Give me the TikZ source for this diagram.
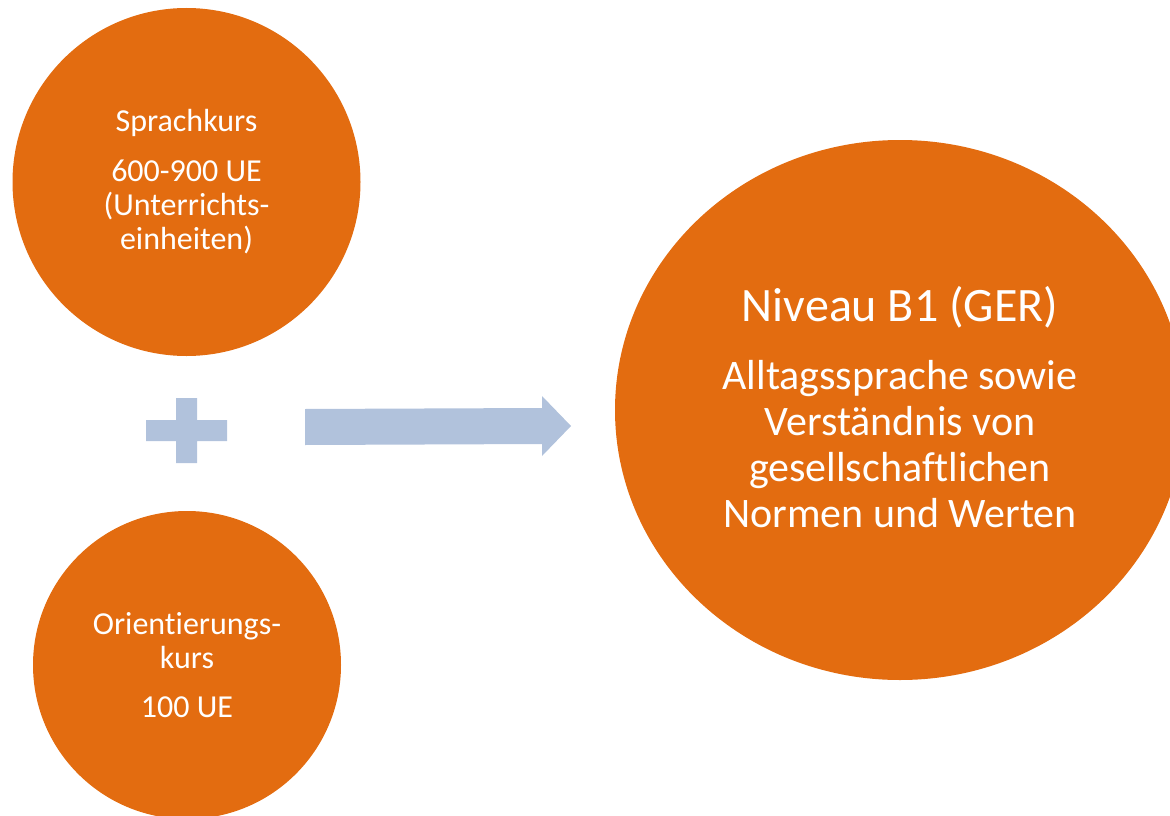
\documentclass[tikz,border=0pt]{standalone}
\usepackage{fontspec}
\setmainfont[Ligatures={NoCommon,NoRequired,NoContextual}]{Carlito}
\usetikzlibrary{shapes.geometric}
\definecolor{orng}{HTML}{E36C10}
\definecolor{bluegray}{HTML}{B1C2DC}
\tikzset{
  blob/.style={fill=orng, draw=none, text=white, align=center, inner sep=0pt},
  smalltext/.style={font=\fontsize{32}{34}\selectfont},
  bigtext/.style={font=\fontsize{42}{46}\selectfont},
  symb/.style={fill=bluegray, draw=none}
}
\begin{document}
\begin{tikzpicture}[x=1pt,y=-1pt]
\useasboundingbox (0,0) rectangle (1170,816);
\node[blob, smalltext, circle, minimum size=348pt] (sprach) at (186.5,182)
  {Sprachkurs\\[16pt]600-900 UE\\(Unterrichts-\\einheiten)};
\node[blob, smalltext, circle, minimum size=308pt] (orient) at (187,665)
  {Orientierungs-\\kurs\\[15pt]100 UE};
\node[blob, ellipse, minimum width=570pt, minimum height=540pt] (niveau) at (900,410) {};
\node[text=white, align=center, inner sep=0pt, bigtext] (niveautext) at (900,407)
  {{\fontsize{48}{52}\selectfont Niveau B1 (GER)}\\[22pt]Alltagssprache sowie\\Verständnis von\\gesellschaftlichen\\Normen und Werten};
% plus sign
\fill[symb] (176,398) -- (197,398) -- (197,420) -- (227,420) -- (227,441) -- (197,441)
  -- (197,463) -- (176,463) -- (176,441) -- (146,441) -- (146,420) -- (176,420) -- cycle;
% block arrow
\fill[symb] (305,409) -- (542,408) -- (542,396) -- (571,426) -- (542,456) -- (542,444)
  -- (305,445) -- cycle;
\end{tikzpicture}
\end{document}
